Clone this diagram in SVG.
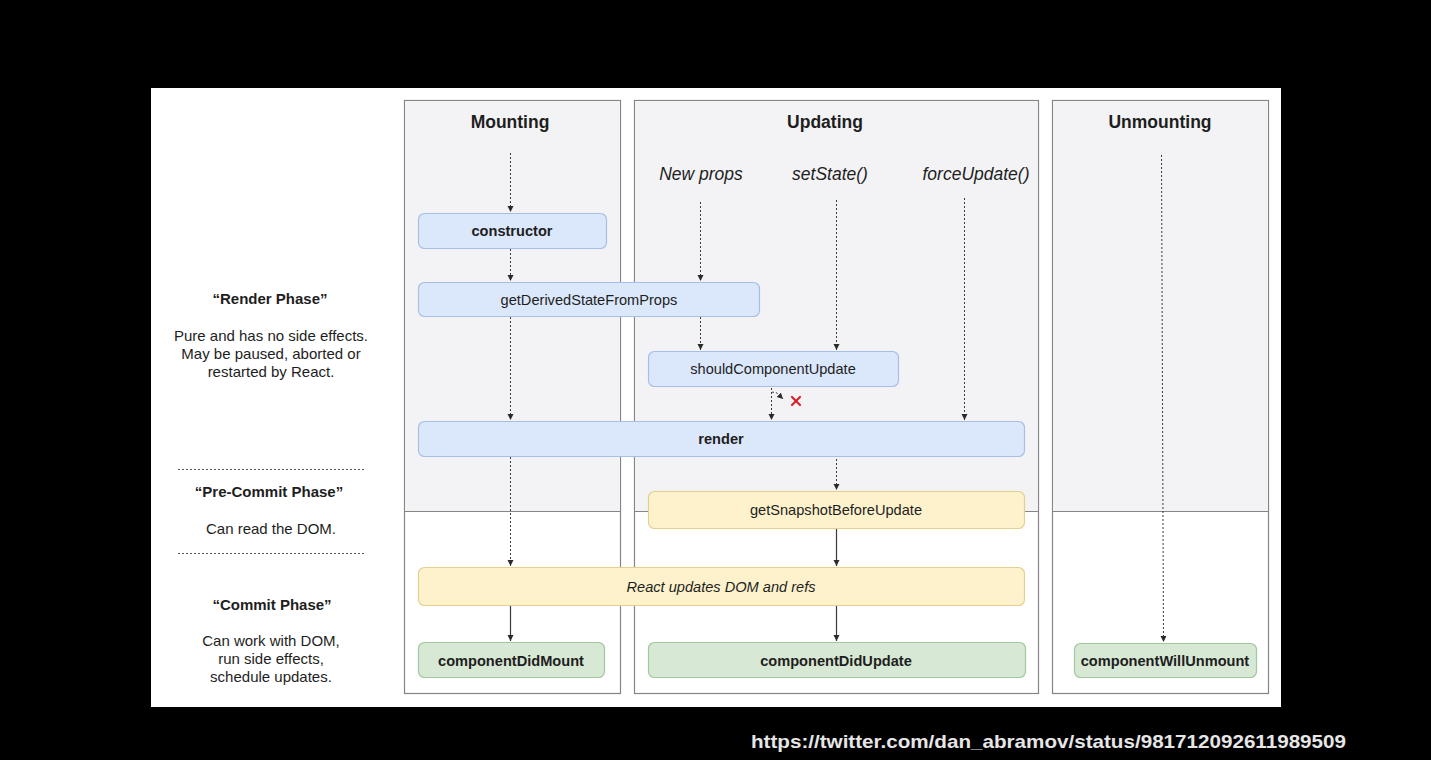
<svg xmlns="http://www.w3.org/2000/svg" width="1431" height="760" viewBox="0 0 1431 760">
<style>
text{font-family:"Liberation Sans",Arial,Helvetica,sans-serif;fill:#1e1e1e;text-anchor:middle}
.title{font-size:17.5px;font-weight:bold}
.trig{font-size:17.5px;font-style:italic}
.lbl{font-size:14.6px}
.b{font-weight:bold}
.i{font-style:italic}
.side{font-size:15px}
.col{fill:#ffffff;stroke:#858585;stroke-width:1.2}
.upper{fill:#f3f3f5}
.div{stroke:#858585;stroke-width:1.2}
.blue{fill:#dbe7fb;stroke:#a7bfe8;stroke-width:1.2}
.yellow{fill:#fdf2cc;stroke:#e3d08e;stroke-width:1.2}
.green{fill:#d7e8d5;stroke:#a3c79e;stroke-width:1.2}
.dot{fill:none;stroke:#3a3a3a;stroke-width:1;stroke-dasharray:2 2}
.solid{fill:none;stroke:#3a3a3a;stroke-width:1.2}
.sep{stroke:#555;stroke-width:1;stroke-dasharray:2 2}
</style>
<defs>
<marker id="ah" markerUnits="userSpaceOnUse" markerWidth="7" markerHeight="7" refX="6" refY="3" orient="auto">
<path d="M0,0 L6,3 L0,6 z" fill="#2a2a2a"/>
</marker>
</defs>
<rect x="0" y="0" width="1431" height="760" fill="#000"/>
<rect x="151" y="88" width="1130" height="619" fill="#fff"/>

<g id="columns">
<g id="col-mounting">
<rect class="col" x="404.5" y="100.5" width="216" height="593"/>
<rect class="upper" x="405.1" y="101.1" width="214.8" height="409.9"/>
<line class="div" x1="404.5" y1="511.5" x2="620.5" y2="511.5"/>
<text class="title" x="510" y="128">Mounting</text>
</g>
<g id="col-updating">
<rect class="col" x="634.5" y="100.5" width="404" height="593"/>
<rect class="upper" x="635.1" y="101.1" width="402.8" height="409.9"/>
<line class="div" x1="634.5" y1="511.5" x2="1038.5" y2="511.5"/>
<text class="title" x="825" y="128">Updating</text>
<text class="trig" x="701" y="180">New props</text>
<text class="trig" x="830" y="180">setState()</text>
<text class="trig" x="976" y="180">forceUpdate()</text>
</g>
<g id="col-unmounting">
<rect class="col" x="1052.5" y="100.5" width="216" height="593"/>
<rect class="upper" x="1053.1" y="101.1" width="214.8" height="409.9"/>
<line class="div" x1="1052.5" y1="511.5" x2="1268.5" y2="511.5"/>
<text class="title" x="1160" y="128">Unmounting</text>
</g>
</g>

<g id="phases">
<text class="side b" x="270" y="304">“Render Phase”</text>
<text class="side" x="271" y="341">Pure and has no side effects.</text>
<text class="side" x="271" y="359">May be paused, aborted or</text>
<text class="side" x="271" y="377">restarted by React.</text>
<line class="sep" x1="178" y1="469.5" x2="364" y2="469.5"/>
<text class="side b" x="269" y="497">“Pre-Commit Phase”</text>
<text class="side" x="271" y="534">Can read the DOM.</text>
<line class="sep" x1="178" y1="553.5" x2="364" y2="553.5"/>
<text class="side b" x="272" y="610">“Commit Phase”</text>
<text class="side" x="271" y="646">Can work with DOM,</text>
<text class="side" x="271" y="664">run side effects,</text>
<text class="side" x="271" y="682">schedule updates.</text>
</g>

<g id="connectors">
<line class="dot" x1="510.5" y1="153" x2="510.5" y2="212" marker-end="url(#ah)"/>
<line class="dot" x1="510.5" y1="249" x2="510.5" y2="281" marker-end="url(#ah)"/>
<line class="dot" x1="510.5" y1="317" x2="510.5" y2="420" marker-end="url(#ah)"/>
<line class="dot" x1="510.5" y1="457" x2="510.5" y2="566" marker-end="url(#ah)"/>
<line class="solid" x1="510.5" y1="606" x2="510.5" y2="641" marker-end="url(#ah)"/>
<line class="dot" x1="700.5" y1="202" x2="700.5" y2="281" marker-end="url(#ah)"/>
<line class="dot" x1="700.5" y1="317" x2="700.5" y2="350" marker-end="url(#ah)"/>
<line class="dot" x1="836.5" y1="200" x2="836.5" y2="350" marker-end="url(#ah)"/>
<line class="dot" x1="964.5" y1="198" x2="964.5" y2="420" marker-end="url(#ah)"/>
<line class="dot" x1="771.5" y1="388" x2="771.5" y2="420" marker-end="url(#ah)"/>
<path class="dot" d="M772,392 L777,393 L783,399" marker-end="url(#ah)"/>
<g id="cancel-x" stroke="#d8202b" stroke-width="2.2" stroke-linecap="round">
<line x1="792" y1="397" x2="800" y2="405"/>
<line x1="800" y1="397" x2="792" y2="405"/>
</g>
<line class="dot" x1="836.5" y1="459" x2="836.5" y2="490" marker-end="url(#ah)"/>
<line class="solid" x1="836.5" y1="529" x2="836.5" y2="566" marker-end="url(#ah)"/>
<line class="solid" x1="836.5" y1="606" x2="836.5" y2="641" marker-end="url(#ah)"/>
<line class="dot" x1="1161.5" y1="155" x2="1163.5" y2="642" marker-end="url(#ah)"/>
</g>

<g id="constructor">
<rect class="blue" x="418.5" y="213.5" width="188" height="35" rx="6"/>
<text class="lbl b" x="512" y="236">constructor</text>
</g>
<g id="getDerivedStateFromProps">
<rect class="blue" x="418.5" y="282.5" width="341" height="34" rx="6"/>
<text class="lbl" x="589" y="304.5">getDerivedStateFromProps</text>
</g>
<g id="shouldComponentUpdate">
<rect class="blue" x="648.5" y="351.5" width="250" height="35" rx="6"/>
<text class="lbl" x="773" y="374">shouldComponentUpdate</text>
</g>
<g id="render">
<rect class="blue" x="418.5" y="421.5" width="606" height="35" rx="6"/>
<text class="lbl b" x="721" y="444">render</text>
</g>
<g id="getSnapshotBeforeUpdate">
<rect class="yellow" x="648.5" y="491.5" width="376" height="37" rx="6"/>
<text class="lbl" x="836" y="515">getSnapshotBeforeUpdate</text>
</g>
<g id="reactUpdatesDOM">
<rect class="yellow" x="418.5" y="567.5" width="606" height="38" rx="6"/>
<text class="lbl i" x="721" y="591.5">React updates DOM and refs</text>
</g>
<g id="componentDidMount">
<rect class="green" x="418.5" y="642.5" width="186" height="35" rx="6"/>
<text class="lbl b" x="511" y="665.5">componentDidMount</text>
</g>
<g id="componentDidUpdate">
<rect class="green" x="648.5" y="642.5" width="377" height="35" rx="6"/>
<text class="lbl b" x="836" y="665.5">componentDidUpdate</text>
</g>
<g id="componentWillUnmount">
<rect class="green" x="1074.5" y="643.5" width="182" height="34" rx="6"/>
<text class="lbl b" x="1165" y="665.5">componentWillUnmount</text>
</g>

<text x="1048.5" y="748" style="font-size:19px;font-weight:bold;fill:#e6e6e6" textLength="595" lengthAdjust="spacingAndGlyphs">https://twitter.com/dan_abramov/status/981712092611989509</text>
</svg>
